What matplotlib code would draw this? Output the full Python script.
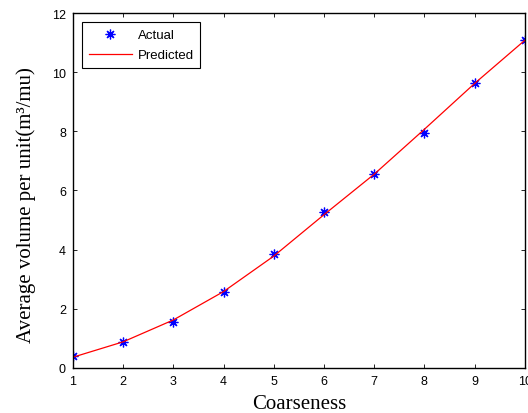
import matplotlib
matplotlib.use("Agg")
import matplotlib.pyplot as plt

coarseness = [1, 2, 3, 4, 5, 6, 7, 8, 9, 10]
actual = [0.40, 0.87, 1.55, 2.56, 3.84, 5.28, 6.56, 7.93, 9.65, 11.08]
predicted = [0.36, 0.88, 1.62, 2.58, 3.78, 5.18, 6.55, 8.07, 9.62, 11.08]

fig = plt.figure(figsize=(5.28, 4.14), dpi=100)
ax = fig.add_axes([0.138, 0.109, 0.856, 0.857])

# MATLAB-like '*' marker: eight-armed asterisk
ax.plot(coarseness, actual, linestyle='none', marker=(8, 2, 0), color='blue',
        markersize=7, markeredgewidth=0.9, label='Actual')
ax.plot(coarseness, predicted, color='red', linewidth=0.9, label='Predicted')

ax.set_xlim(1, 10)
ax.set_ylim(0, 12)
ax.set_xticks(range(1, 11))
ax.set_yticks(range(0, 13, 2))
ax.tick_params(direction='in', length=3, width=0.6, top=True, right=True,
               labelsize=9, pad=5)
for lab in ax.get_xticklabels() + ax.get_yticklabels():
    lab.set_family('Liberation Sans')
for sp in ax.spines.values():
    sp.set_linewidth(1.0)

ax.set_xlabel('Coarseness', family='Liberation Serif', fontsize=15, labelpad=5)
ax.set_ylabel('Average volume per unit(m³/mu)', family='Liberation Serif',
              fontsize=15)
ax.yaxis.set_label_coords(-0.082, 0.462)

leg = ax.legend(loc='upper left', prop={'family': 'Liberation Sans', 'size': 9.5},
                fancybox=False, edgecolor='black', framealpha=1,
                handlelength=3.3, handletextpad=0.4, borderaxespad=0.7,
                labelspacing=0.6, borderpad=0.5)
leg.get_frame().set_linewidth(0.8)

fig.savefig('out.png', dpi=100)
